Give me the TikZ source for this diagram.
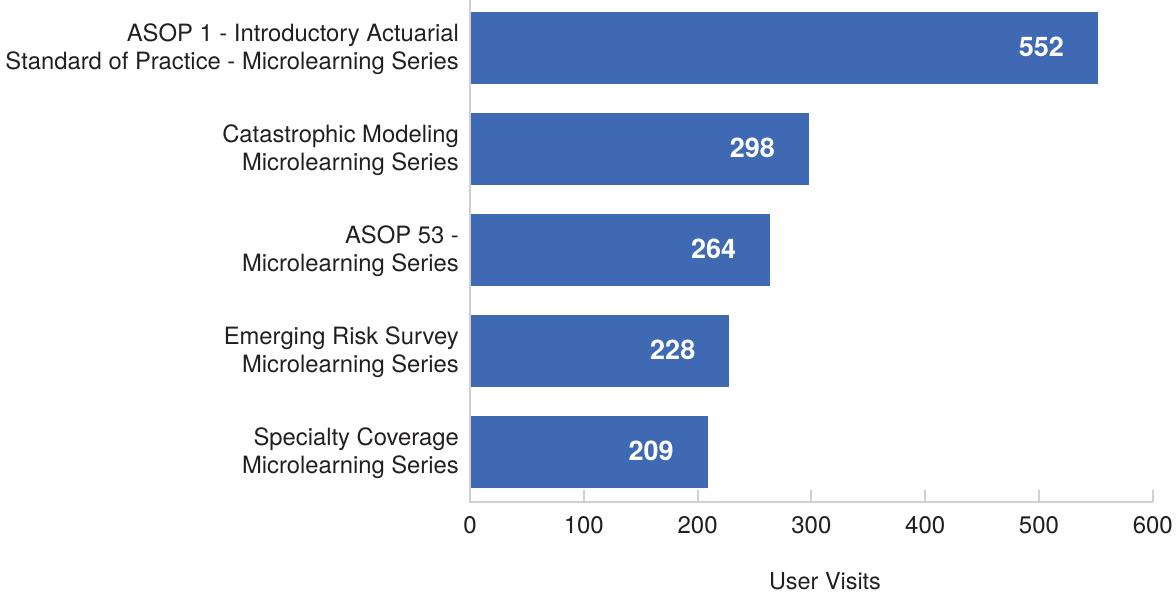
\documentclass[tikz,border=0pt]{standalone}
\usepackage{fontspec}
\setmainfont{TeX Gyre Heros}
\definecolor{barblue}{HTML}{3F69B2}
\definecolor{axisgray}{HTML}{D0D0D0}
\definecolor{txt}{HTML}{231F20}
\begin{document}
\begin{tikzpicture}[x=1pt,y=-1pt,
  bar/.style={fill=barblue,draw=none},
  axisline/.style={draw=axisgray,line width=2pt},
  catlabel/.style={anchor=east,align=right,font=\fontsize{23.8}{28}\selectfont,text=txt,inner sep=0pt},
  vallabel/.style={anchor=east,font=\fontsize{27}{30}\selectfont\bfseries,text=white,inner sep=0pt},
  ticklabel/.style={anchor=center,font=\fontsize{24}{28}\selectfont,text=txt,inner sep=0pt},
  titlelabel/.style={anchor=center,font=\fontsize{23.4}{27}\selectfont,text=txt,inner sep=0pt}]
\useasboundingbox (0,0) rectangle (1176,593);
% 1 unit of value = 1.138 px, origin at x = 470
\def\xo{470}
\def\sc{1.138}
% bars with centres 101 px apart
\foreach \v/\c/\n in {552/48/a,298/149/b,264/250/c,228/351/d,209/452/e}{
  \fill[bar] (\xo,\c-36) rectangle ({\xo+\v*\sc},\c+36);
  \node[vallabel] (val\n) at ({\xo+\v*\sc-34},\c-1) {\v};
}
% category labels
\node[catlabel] (cata) at (459,49) {ASOP 1 - Introductory Actuarial\\Standard of Practice - Microlearning Series};
\node[catlabel] (catb) at (459,150) {Catastrophic Modeling\\Microlearning Series};
\node[catlabel] (catc) at (459,251) {ASOP 53 -\\Microlearning Series};
\node[catlabel] (catd) at (459,352) {Emerging Risk Survey\\Microlearning Series};
\node[catlabel] (cate) at (459,453) {Specialty Coverage\\Microlearning Series};
% axes
\draw[axisline] (469.5,0) -- (469.5,502) -- ({\xo+600*\sc},502);
\foreach \t in {100,200,...,600}{
  \draw[axisline] ({\xo+\t*\sc},490) -- ({\xo+\t*\sc},502);
}
\foreach \t in {0,100,...,600}{
  \node[ticklabel] (tick\t) at ({\xo+\t*\sc},525) {\t};
}
\node[titlelabel] (xtitle) at (825,581) {User Visits};
\end{tikzpicture}
\end{document}
